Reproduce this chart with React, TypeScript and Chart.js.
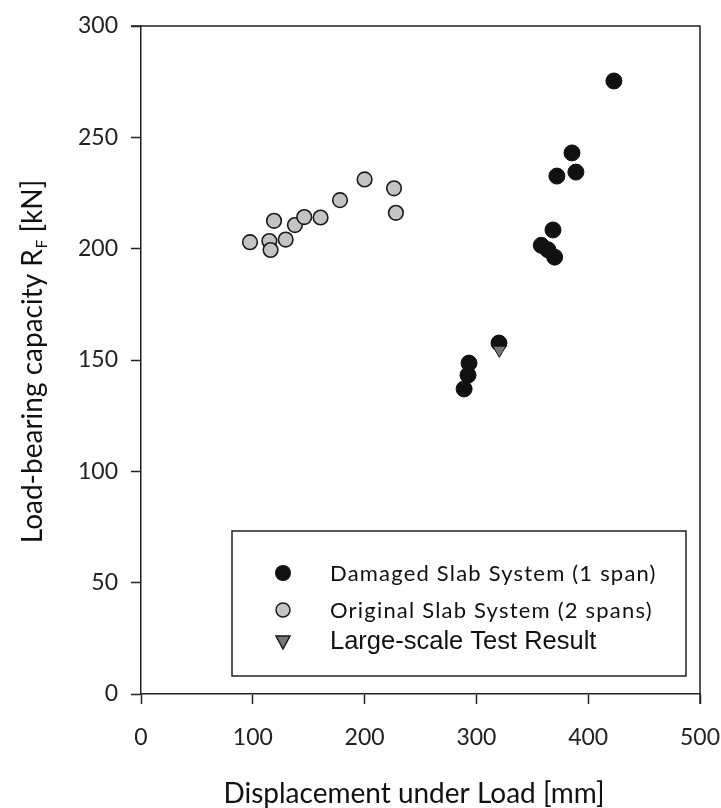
import React, { useEffect, useRef } from "react";
import { Chart, registerables } from "chart.js";

Chart.register(...registerables);

const damagedX = [423, 385.5, 389, 372, 368.5, 358, 364, 370, 293.4, 292.5, 289, 320.2];
const damagedY = [275.3, 243, 234.4, 232.6, 208.4, 201.5, 199.5, 196.2, 148.6, 143.2, 137, 157.6];
const originalX = [97.5, 114.8, 115.9, 119, 129.4, 137.7, 146, 160.6, 178, 200, 226.3, 228];
const originalY = [202.9, 203.4, 199.4, 212.5, 204.1, 210.6, 214.2, 214, 221.8, 231.1, 227.1, 216.1];
const testX = [320.5];
const testY = [154.5];
const xTicks = [0, 100, 200, 300, 400, 500];
const yTicks = [0, 50, 100, 150, 200, 250, 300];
const legendLabels = [
  "Damaged Slab System (1 span)",
  "Original Slab System (2 spans)",
  "Large-scale Test Result",
];

const toPoints = (xs: number[], ys: number[]) => xs.map((x, i) => ({ x, y: ys[i] }));

const AXIS = "#222";
const TICK_FONT = "Lato";

const decorPlugin = {
  id: "decor",
  afterDraw(chart: any) {
    const { ctx, chartArea } = chart;
    const { left, right, top, bottom } = chartArea;
    ctx.save();
    // frame top + right
    ctx.strokeStyle = AXIS;
    ctx.lineWidth = 1.5;
    ctx.beginPath();
    ctx.moveTo(left - 10, top);
    ctx.lineTo(right, top);
    ctx.lineTo(right, bottom + 10);
    ctx.stroke();

    // legend box
    const bx = 232, by = 531, bw = 454, bh = 145;
    ctx.fillStyle = "#fff";
    ctx.fillRect(bx, by, bw, bh);
    ctx.lineWidth = 1.5;
    ctx.strokeRect(bx, by, bw, bh);
    const mx = 283;
    const rows = [573, 610, 642];
    // marker 1
    ctx.fillStyle = "#111";
    ctx.beginPath();
    ctx.arc(mx, rows[0], 8, 0, Math.PI * 2);
    ctx.fill();
    // marker 2
    ctx.fillStyle = "#c4c4c4";
    ctx.strokeStyle = "#1a1a1a";
    ctx.lineWidth = 1.5;
    ctx.beginPath();
    ctx.arc(mx, rows[1], 7, 0, Math.PI * 2);
    ctx.fill();
    ctx.stroke();
    // marker 3 triangle
    ctx.fillStyle = "#777";
    ctx.beginPath();
    ctx.moveTo(mx - 7, rows[2] - 6);
    ctx.lineTo(mx + 7, rows[2] - 6);
    ctx.lineTo(mx, rows[2] + 7);
    ctx.closePath();
    ctx.fill();
    ctx.stroke();

    ctx.fillStyle = "#111";
    ctx.textBaseline = "middle";
    ctx.textAlign = "left";
    ctx.font = `22px ${TICK_FONT}`;
    (ctx as any).letterSpacing = "1.2px";
    ctx.fillText(legendLabels[0], 330, rows[0] + 1);
    ctx.fillText(legendLabels[1], 330, rows[1] + 1);
    (ctx as any).letterSpacing = "0px";
    ctx.font = `25.5px "Liberation Sans"`;
    ctx.fillText(legendLabels[2], 330, rows[2]);

    // x title
    ctx.font = `28px ${TICK_FONT}`;
    ctx.textAlign = "center";
    ctx.fillStyle = "#111";
    ctx.fillText("Displacement under Load [mm]", 414, 794);

    // y title with subscript
    ctx.save();
    ctx.translate(33, 362);
    ctx.rotate(-Math.PI / 2);
    const main = `28px ${TICK_FONT}`;
    const sub = `15px ${TICK_FONT}`;
    const p1 = "Load-bearing capacity R";
    const p2 = "F";
    const p3 = " [kN]";
    ctx.font = main;
    const w1 = ctx.measureText(p1).width;
    const w3 = ctx.measureText(p3).width;
    ctx.font = sub;
    const w2 = ctx.measureText(p2).width;
    const total = w1 + w2 + w3;
    const x0 = -total / 2;
    ctx.textAlign = "left";
    ctx.font = main;
    ctx.fillText(p1, x0, 0);
    ctx.font = sub;
    ctx.fillText(p2, x0 + w1 + 1, 9);
    ctx.font = main;
    ctx.fillText(p3, x0 + w1 + w2 + 1, 0);
    ctx.restore();

    ctx.restore();
  },
};

export default function App() {
  const ref = useRef<HTMLCanvasElement | null>(null);
  useEffect(() => {
    document.body.style.margin = "0";
    if (!ref.current) return;
    const chart = new Chart(ref.current, {
      type: "scatter",
      data: {
        datasets: [
          {
            label: legendLabels[2],
            data: toPoints(testX, testY),
            pointStyle: "triangle",
            rotation: 180,
            pointRadius: 7.5,
            backgroundColor: "#777",
            borderColor: "#1a1a1a",
            borderWidth: 1,
            order: 0,
          },
          {
            label: legendLabels[0],
            data: toPoints(damagedX, damagedY),
            pointRadius: 8,
            backgroundColor: "#111",
            borderColor: "#111",
            borderWidth: 1,
            order: 1,
          },
          {
            label: legendLabels[1],
            data: toPoints(originalX, originalY),
            pointRadius: 7.3,
            backgroundColor: "#c4c4c4",
            borderColor: "#1a1a1a",
            borderWidth: 1.6,
            order: 2,
          },
        ],
      },
      options: {
        animation: false,
        responsive: true,
        maintainAspectRatio: false,
        layout: { padding: { left: 0, top: 26, right: 21, bottom: 0 } },
        plugins: {
          legend: { display: false },
          tooltip: { enabled: false },
          title: { display: false },
        },
        scales: {
          x: {
            type: "linear",
            min: 0,
            max: 500,
            afterBuildTicks: (s: any) => {
              s.ticks = xTicks.map((v) => ({ value: v }));
            },
            afterFit: (s: any) => {
              s.height = 114;
              s.paddingLeft = 0;
              s.paddingRight = 0;
            },
            grid: {
              drawOnChartArea: false,
              drawTicks: true,
              tickLength: 10,
              tickWidth: 1.5,
              tickColor: AXIS,
            },
            border: { display: true, color: AXIS, width: 1.5 },
            ticks: {
              color: "#222",
              font: { family: TICK_FONT, size: 23 },
              padding: 20,
              maxRotation: 0,
            },
          },
          y: {
            type: "linear",
            min: 0,
            max: 300,
            afterBuildTicks: (s: any) => {
              s.ticks = yTicks.map((v) => ({ value: v }));
            },
            afterFit: (s: any) => {
              s.width = 141;
              s.paddingTop = 0;
              s.paddingBottom = 0;
            },
            grid: {
              drawOnChartArea: false,
              drawTicks: true,
              tickLength: 10,
              tickWidth: 1.5,
              tickColor: AXIS,
            },
            border: { display: true, color: AXIS, width: 1.5 },
            ticks: {
              color: "#222",
              font: { family: TICK_FONT, size: 23 },
              padding: 13,
            },
          },
        },
      },
      plugins: [decorPlugin],
    });
    return () => chart.destroy();
  }, []);
  return (
    <div style={{ width: 721, height: 808, position: "relative" }}>
      <canvas ref={ref} />
    </div>
  );
}
